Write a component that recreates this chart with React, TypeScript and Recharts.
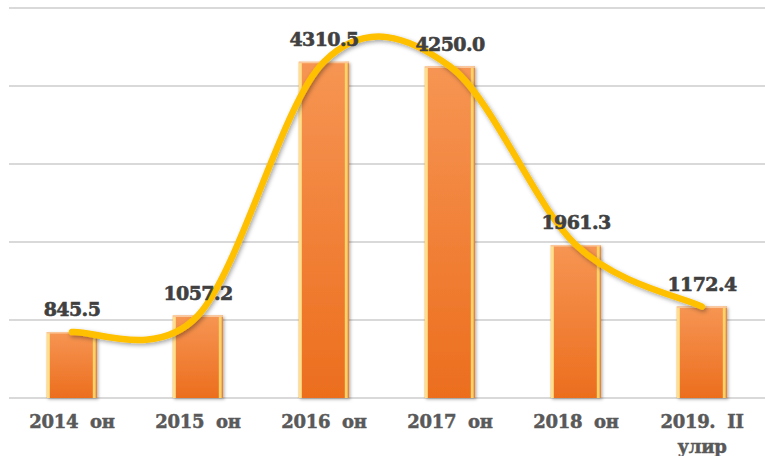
import { ComposedChart, Bar, Line, XAxis, YAxis, CartesianGrid, LabelList } from 'recharts'

const categories = ['2014  он', '2015  он', '2016  он', '2017  он', '2018  он', '2019.  II|улир']
const values = [845.5, 1057.2, 4310.5, 4250.0, 1961.3, 1172.4]
const yTicks = [0, 1000, 2000, 3000, 4000, 5000]

const data = categories.map((name, i) => ({ name, value: values[i] }))

const FONT = '"DejaVu Serif", serif'

// Excel-style smoothed line (Catmull-Rom through the points)
function excelSmooth(context: any) {
  let pts: number[][] = []
  return {
    areaStart() {},
    areaEnd() {},
    lineStart() { pts = [] },
    point(x: number, y: number) { pts.push([+x, +y]) },
    lineEnd() {
      if (!pts.length) return
      context.moveTo(pts[0][0], pts[0][1])
      for (let i = 0; i < pts.length - 1; i++) {
        const p0 = pts[i - 1] || pts[i]
        const p1 = pts[i]
        const p2 = pts[i + 1]
        const p3 = pts[i + 2] || pts[i + 1]
        context.bezierCurveTo(
          p1[0] + (p2[0] - p0[0]) / 6, p1[1] + (p2[1] - p0[1]) / 6,
          p2[0] - (p3[0] - p1[0]) / 6, p2[1] - (p3[1] - p1[1]) / 6,
          p2[0], p2[1],
        )
      }
    },
  }
}

function BevelBar(props: any) {
  const { x, y, width, height } = props
  if (!height || height <= 0) return null
  const e = 3
  return (
    <g filter="url(#barShadow)">
      <rect x={x} y={y} width={width} height={height} fill="url(#barFill)" />
      <rect x={x} y={y} width={e} height={height} fill="#FFE08A" />
      <rect x={x + width - e - 1} y={y} width={e} height={height} fill="#FFD36B" />
      <rect x={x + width - 1} y={y} width={1} height={height} fill="#E8842E" />
      <rect x={x} y={y} width={width} height={1.5} fill="#FBC79A" />
    </g>
  )
}

function CatTick(props: any) {
  const { x, y, payload } = props
  const lines = String(payload.value).split('|')
  return (
    <text
      x={x}
      y={y + 22}
      textAnchor="middle"
      fill="#595959"
      stroke="#595959"
      strokeWidth={0.5}
      fontFamily={FONT}
      fontWeight="bold"
      fontSize={18}
      letterSpacing={-0.3}
      style={{ whiteSpace: 'pre' }}
    >
      {lines.map((l, i) => (
        <tspan key={i} x={x} dy={i === 0 ? 0 : 25}>{l}</tspan>
      ))}
    </text>
  )
}

export default function App() {
  return (
    <div style={{ position: 'absolute', left: 0, top: 0, width: 765, height: 456, background: '#fff' }}>
      <ComposedChart
        width={765}
        height={456}
        data={data}
        margin={{ top: 8, right: 0, bottom: 0, left: 9 }}
        barCategoryGap="30%"
      >
        <defs>
          <linearGradient id="barFill" x1="0" y1="0" x2="0" y2="1">
            <stop offset="0%" stopColor="#F69553" />
            <stop offset="100%" stopColor="#EC6E1E" />
          </linearGradient>
          <filter id="barShadow" x="-20%" y="-20%" width="140%" height="140%">
            <feDropShadow dx="1.5" dy="1.5" stdDeviation="1.5" floodColor="#000" floodOpacity="0.3" />
          </filter>
          <filter id="lineShadow" x="-10%" y="-10%" width="120%" height="120%">
            <feDropShadow dx="1.5" dy="2" stdDeviation="2" floodColor="#000" floodOpacity="0.35" />
          </filter>
        </defs>
        <CartesianGrid vertical={false} stroke="#D9D9D9" strokeWidth={2} />
        <XAxis
          dataKey="name"
          axisLine={false}
          tickLine={false}
          height={58}
          interval={0}
          tick={<CatTick />}
        />
        <YAxis hide domain={[0, 5000]} ticks={yTicks} />
        <Bar dataKey="value" shape={<BevelBar />} isAnimationActive={false} />
        <Line
          dataKey="value"
          type={excelSmooth as any}
          stroke="#FFC000"
          strokeWidth={6.5}
          strokeLinecap="round"
          dot={false}
          activeDot={false}
          filter="url(#lineShadow)"
          isAnimationActive={false}
        >
          <LabelList
            dataKey="value"
            position="top"
            offset={16}
            formatter={(v: any) => Number(v).toFixed(1)}
            fill="#404040"
            stroke="#404040"
            strokeWidth={0.6}
            fontFamily={FONT}
            fontWeight="bold"
            fontSize={19}
            letterSpacing={-0.6}
          />
        </Line>
      </ComposedChart>
    </div>
  )
}
